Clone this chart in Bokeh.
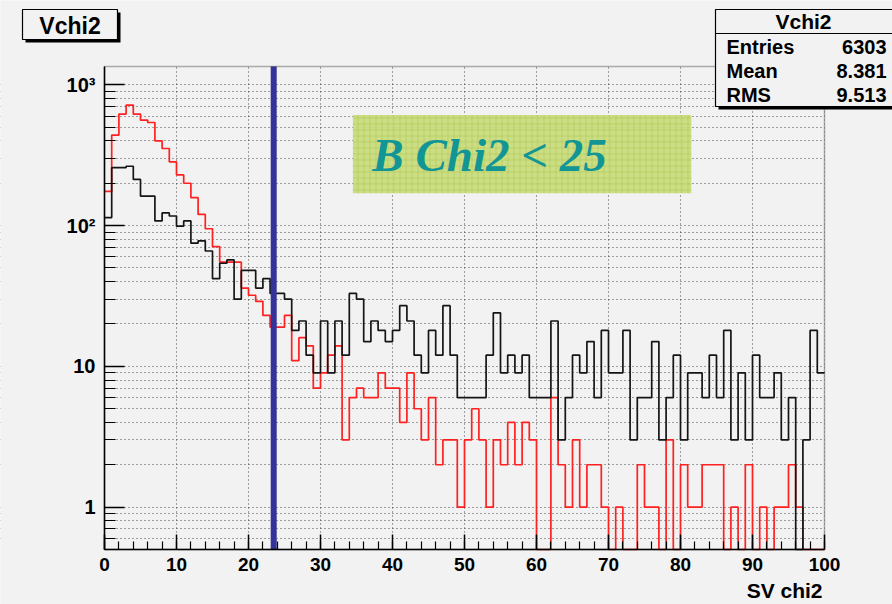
import math
from bokeh.plotting import figure
from bokeh.models import (Range1d, BoxAnnotation, Label, FixedTicker,
                          SingleIntervalTicker, CustomJSTickFormatter)
from bokeh.embed import file_html
from bokeh.resources import INLINE

# ---------------- data ----------------
bin_left_edges = list(range(100))
x_min, x_max = 0, 100

black_counts = [114, 258, 258, 264, 213, 162, 162, 108, 123, 117,
                99, 108, 75, 78, 66, 42, 54, 57, 30, 48,
                48, 36, 42, 33, 33, 30, 18, 21, 12, 9,
                21, 9, 21, 12, 33, 30, 15, 21, 18, 15,
                18, 27, 21, 12, 9, 18, 12, 27, 12, 6,
                6, 6, 6, 12, 24, 9, 12, 9, 12, 6,
                6, 6, 21, 3, 6, 12, 9, 15, 6, 18,
                9, 9, 18, 3, 6, 6, 15, 3, 6, 12,
                3, 9, 9, 6, 12, 6, 18, 3, 9, 3,
                12, 6, 6, 9, 3, 6, 0, 3, 18, 9]

red_counts = [175, 440, 620, 718, 620, 562, 540, 400, 353, 284,
              229, 200, 158, 120, 95, 71, 55, 55, 55, 36,
              32, 29, 23, 19, 19, 23, 11, 16, 14, 7,
              9, 12, 14, 3, 6, 7, 6, 6, 9, 7,
              7, 4, 9, 5, 3, 6, 2, 3, 3, 1,
              3, 5, 3, 1, 3, 2, 4, 2, 4, 3,
              0, 0, 6, 2, 1, 3, 1, 2, 2, 1,
              0, 1, 0, 0, 2, 1, 1, 0, 3, 0,
              2, 1, 1, 2, 2, 2, 0, 1, 0, 2,
              0, 1, 0, 1, 1, 2, 1, 0, 0, 0]

y_decades = [1, 10, 100, 1000]
y_min, y_max = 0.5, 1350
cut_value = 23.5

title_text = "Vchi2"
stats_title = "Vchi2"
stats_names = ["Entries", "Mean", "RMS"]
stats_values = ["6303", "8.381", "9.513"]
cut_text = "B Chi2 < 25"
x_title = "SV chi2"

# ---------------- layout (pixels) ----------------
W, H = 892, 604
F_L, F_R, F_T, F_B = 104, 824, 66, 549     # histogram frame on the canvas
BG = "#f2f2f2"

# the figure frame covers the whole canvas; data ranges are widened so that
# the histogram area lands on the frame rectangle above
xpp = (x_max - x_min) / (F_R - F_L)
x_lo = x_min - F_L * xpp
x_hi = x_max + (W - F_R) * xpp
lpp = (math.log10(y_max) - math.log10(y_min)) / (F_B - F_T)
y_lo = 10 ** (math.log10(y_min) - (H - F_B) * lpp)
y_hi = 10 ** (math.log10(y_max) + F_T * lpp)

p = figure(width=W, height=H, y_axis_type="log",
           x_range=Range1d(x_lo, x_hi), y_range=Range1d(y_lo, y_hi),
           output_backend="svg", toolbar_location=None, min_border=0)
if p.title is not None:
    p.title.visible = False
p.background_fill_color = BG
p.border_fill_color = BG
p.outline_line_color = None

# x axis
xt = SingleIntervalTicker(interval=10, num_minor_ticks=5)
p.xaxis.ticker = xt
p.xgrid.ticker = xt
p.xaxis.fixed_location = y_min
p.xaxis.bounds = (x_min, x_max)
p.xaxis.major_tick_in = 15
p.xaxis.major_tick_out = 0
p.xaxis.minor_tick_in = 8
p.xaxis.minor_tick_out = 0
p.xaxis.major_label_standoff = 8

# y axis (log)
minor_y = [m * d for d in [0.1, 1, 10, 100, 1000] for m in range(2, 10)
           if y_min < m * d < y_max]
yt = FixedTicker(ticks=y_decades, minor_ticks=minor_y)
p.yaxis.ticker = yt
p.ygrid.ticker = yt
p.yaxis.fixed_location = x_min
p.yaxis.bounds = (y_min, y_max)
p.yaxis.major_tick_in = 20
p.yaxis.major_tick_out = 0
p.yaxis.minor_tick_in = 11
p.yaxis.minor_tick_out = 0
p.yaxis.major_label_standoff = 9
p.yaxis.formatter = CustomJSTickFormatter(code="""
const e = Math.round(Math.log10(tick));
if (e <= 1) { return String(Math.round(tick)); }
const sup = {2: "\u00b2", 3: "\u00b3", 4: "\u2074"};
return "10" + sup[e];
""")

for ax in (p.xaxis, p.yaxis):
    ax.axis_line_width = 1.5
    ax.axis_line_color = "black"
    ax.major_tick_line_color = "black"
    ax.minor_tick_line_color = "black"
    ax.major_tick_line_width = 1.5
    ax.minor_tick_line_width = 1.2
    ax.major_label_text_font = "Liberation Sans"
    ax.major_label_text_font_style = "bold"
    ax.major_label_text_color = "black"
p.xaxis.major_label_text_font_size = "19px"
p.yaxis.major_label_text_font_size = "20px"

# grids (dotted, ROOT style)
for g in (p.xgrid, p.ygrid):
    g.grid_line_color = "#2a2a2a"
    g.grid_line_dash = "1 3"
    g.grid_line_width = 1
    g.grid_line_alpha = 0.85
p.ygrid.minor_grid_line_color = "#2a2a2a"
p.ygrid.minor_grid_line_dash = "1 3"
p.ygrid.minor_grid_line_alpha = 0.85


def cbox(l, r, t, b, fill, line=None, level="annotation"):
    return BoxAnnotation(left=l, right=r, top=t, bottom=b,
                         left_units="canvas", right_units="canvas",
                         top_units="canvas", bottom_units="canvas",
                         fill_color=fill, fill_alpha=1,
                         line_color=line if line else fill,
                         line_alpha=1 if line else 0, line_width=1.2,
                         level=level)


# masks so the grid stays inside the histogram frame
for (l, r, t, b) in [(0, F_L, 0, H), (F_R, W, 0, H), (0, W, 0, F_T), (0, W, F_B, H)]:
    p.add_layout(cbox(l, r, t, b, BG, level="underlay"))

# ---------------- histograms ----------------
step_x = bin_left_edges + [x_max]
red_y = [c if c > 0 else y_min for c in red_counts]
red_y = red_y + [red_y[-1]]
black_y = [c if c > 0 else y_min for c in black_counts]
black_y = black_y + [black_y[-1]]

p.step(step_x, red_y, mode="after", line_color="#ff2020", line_width=1.7)
p.step(step_x, black_y, mode="after", line_color="#151515", line_width=1.7)

# cut line
p.segment(x0=[cut_value], y0=[y_min], x1=[cut_value], y1=[y_max],
          line_color="#333399", line_width=6, line_cap="butt")

# frame outline
p.add_layout(BoxAnnotation(left=x_min, right=x_max, bottom=y_min, top=y_max,
                           fill_alpha=0, line_color="black", line_width=1.5))

# green annotation box with text
p.add_layout(BoxAnnotation(left=34.5, right=81.5, bottom=170, top=610,
                           fill_color="#c9dc7a", fill_alpha=0.92,
                           line_alpha=0,
                           hatch_pattern="+", hatch_color="#a9c552",
                           hatch_alpha=0.55, hatch_scale=6, hatch_weight=1))
p.add_layout(Label(x=37.2, y=315, text=cut_text,
                   text_font="Liberation Serif", text_font_style="bold italic",
                   text_font_size="47px", text_color="#129595",
                   text_baseline="alphabetic", text_align="left"))


def clabel(x, y, text, size, align="left"):
    return Label(x=x, y=y, x_units="canvas", y_units="canvas", text=text,
                 text_font="Liberation Sans", text_font_style="bold",
                 text_font_size=size, text_align=align,
                 text_baseline="middle", text_color="black")


# ---------------- ROOT-style title & stats boxes ----------------
p.add_layout(cbox(25, 120, 12, 42, "black"))
p.add_layout(cbox(22, 117, 9, 39, BG, "black"))
p.add_layout(clabel(69.5, 25, title_text, "23px", "center"))

p.add_layout(cbox(718, 900, 12, 109, "black"))
p.add_layout(cbox(715, 900, 9, 106, BG, "black"))
p.add_layout(cbox(715, 900, 32.5, 33.5, "black"))
p.add_layout(clabel(803, 21, stats_title, "21px", "center"))
for i, (n, v) in enumerate(zip(stats_names, stats_values)):
    yy = 46 + 24 * i
    p.add_layout(clabel(726, yy, n, "20px", "left"))
    p.add_layout(clabel(886, yy, v, "20px", "right"))

# x title
p.add_layout(clabel(822, 590, x_title, "21px", "right"))

open("out.html", "w").write(file_html(p, INLINE))
